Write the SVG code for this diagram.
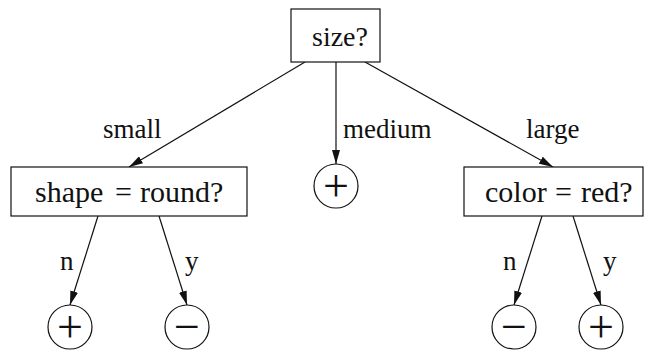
<svg xmlns="http://www.w3.org/2000/svg" width="647" height="350" viewBox="0 0 647 350">
  <style>
    .box { fill: #fff; stroke: #111; stroke-width: 1.2; }
    .leaf { fill: #fff; stroke: #111; stroke-width: 1.2; }
    text { font-family: 'Liberation Serif', Tinos, 'Times New Roman', serif; fill: #111; }
    .q { font-size: 30px; }
    .root { font-size: 28px; }
    .lbl { font-size: 27px; }
    .sym { font-size: 46px; text-anchor: middle; }
    .edge { stroke: #111; stroke-width: 1.2; fill: none; marker-end: url(#arrow); }
  </style>
  <defs>
    <marker id="arrow" viewBox="0 0 14 8" refX="14" refY="4" markerWidth="14" markerHeight="8" markerUnits="userSpaceOnUse" orient="auto">
      <path d="M0,0 L14,4 L0,8 Z" fill="#111"/>
    </marker>
  </defs>

  <rect width="647" height="350" fill="#fff"/>

  <!-- connectors with their branch labels -->
  <g id="edges">
    <line class="edge" x1="305" y1="62" x2="129" y2="167"/>
    <line class="edge" x1="336" y1="62" x2="336" y2="164"/>
    <line class="edge" x1="365" y1="62" x2="553" y2="167"/>
    <line class="edge" x1="98" y1="216" x2="70" y2="305"/>
    <line class="edge" x1="159" y1="216" x2="187" y2="305"/>
    <line class="edge" x1="542" y1="216" x2="514" y2="305"/>
    <line class="edge" x1="573" y1="216" x2="601" y2="305"/>
    <text class="lbl" x="103" y="138">small</text>
    <text class="lbl" x="343" y="138">medium</text>
    <text class="lbl" x="526" y="138">large</text>
    <text class="lbl" x="60" y="270">n</text>
    <text class="lbl" x="185" y="270">y</text>
    <text class="lbl" x="503" y="270">n</text>
    <text class="lbl" x="603" y="270">y</text>
  </g>

  <g id="root">
    <rect class="box" x="291" y="9" width="89" height="53"/>
    <text class="root" x="312" y="46">size?</text>
  </g>

  <g id="shape">
    <rect class="box" x="11" y="167" width="236" height="49"/>
    <text class="q" y="202"><tspan x="35">shape</tspan><tspan x="115">=</tspan><tspan x="140">round?</tspan></text>
  </g>

  <g id="color">
    <rect class="box" x="464" y="167" width="179" height="49"/>
    <text class="q" y="202"><tspan x="485">color</tspan><tspan x="555">=</tspan><tspan x="581">red?</tspan></text>
  </g>

  <g id="medium-leaf">
    <circle class="leaf" cx="336" cy="186" r="22"/>
    <text class="sym" x="336" y="201">+</text>
  </g>

  <g id="shape-n-leaf">
    <circle class="leaf" cx="70" cy="327" r="22"/>
    <text class="sym" x="70" y="342">+</text>
  </g>

  <g id="shape-y-leaf">
    <circle class="leaf" cx="187" cy="327" r="22"/>
    <text class="sym" x="187" y="342">−</text>
  </g>

  <g id="color-n-leaf">
    <circle class="leaf" cx="514" cy="327" r="22"/>
    <text class="sym" x="514" y="342">−</text>
  </g>

  <g id="color-y-leaf">
    <circle class="leaf" cx="601" cy="327" r="22"/>
    <text class="sym" x="601" y="342">+</text>
  </g>
</svg>
